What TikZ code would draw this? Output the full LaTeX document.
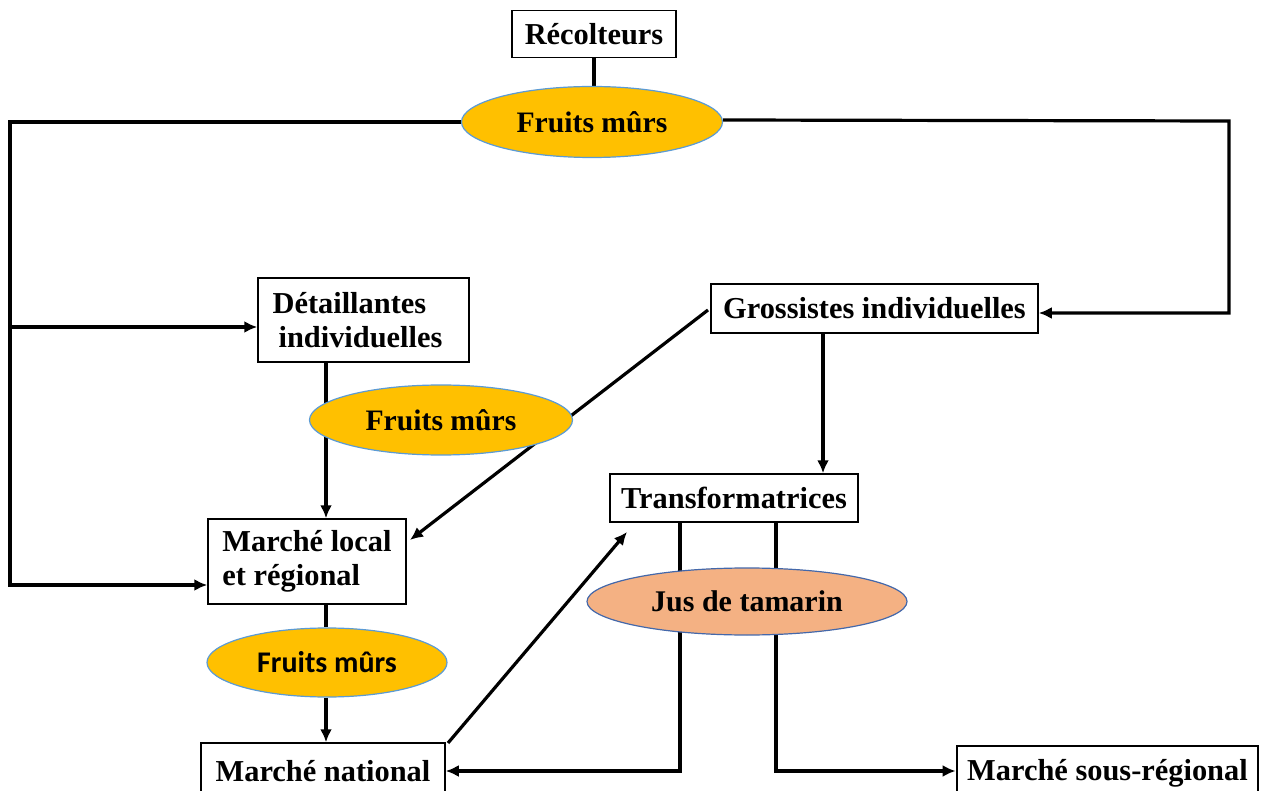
\documentclass[tikz,border=0pt]{standalone}
\usepackage{fontspec}
\setmainfont{Liberation Serif}
\newfontfamily\calibri{Carlito}
\usetikzlibrary{shapes.geometric,arrows.meta,calc}
\pgfdeclarelayer{bg}
\pgfdeclarelayer{paper}
\pgfsetlayers{paper,bg,main}
\begin{document}
\begin{tikzpicture}[x=1pt,y=-1pt,
  box/.style={draw=black,line width=1.5pt,fill=white,inner sep=0pt,font=\fontsize{30.4}{34}\selectfont\bfseries},
  fruit/.style={ellipse,draw={rgb,255:red,91;green,155;blue,213},line width=1.2pt,fill={rgb,255:red,255;green,192;blue,0},inner sep=0pt,font=\fontsize{29.7}{34}\selectfont\bfseries},
  jus/.style={ellipse,draw={rgb,255:red,68;green,104;blue,170},line width=1.2pt,fill={rgb,255:red,244;green,177;blue,131},inner sep=0pt,font=\fontsize{30}{34}\selectfont\bfseries},
  conn/.style={line width=3.2pt},
  arr/.style={line width=3.2pt,-{Latex[length=13pt,width=12pt]}}]
\useasboundingbox (0,0) rectangle (1261,791);
\clip (0,0) rectangle (1261,791);
\begin{pgfonlayer}{paper}
\fill[white] (0,0) rectangle (1261,791);
\end{pgfonlayer}
% nodes
\node[box,minimum width=164pt,minimum height=47pt] (rec) at (594,34) {Récolteurs};
\node[fruit,minimum width=261pt,minimum height=71pt] (e1) at (592,122) {Fruits mûrs};
\node[box,minimum width=211pt,minimum height=84pt,align=left] (det) at (363.5,320) {Détaillantes\\\hspace*{6pt}individuelles\hspace*{12pt}};
\node[box,minimum width=327pt,minimum height=49pt] (gro) at (874.5,308.5) {Grossistes individuelles};
\node[fruit,minimum width=263pt,minimum height=70pt] (e2) at (441,420) {Fruits mûrs};
\node[box,minimum width=248pt,minimum height=48pt] (tra) at (734,498) {Transformatrices};
\node[box,minimum width=198pt,minimum height=85pt,align=left] (ml) at (307,561.5) {Marché local\\et régional};
\node[fruit,minimum width=240pt,minimum height=69pt,font=\calibri\fontsize{30}{34}\selectfont\bfseries] (e3) at (327,662.5) {Fruits mûrs};
\node[jus,minimum width=320pt,minimum height=67pt] (e4) at (747,601.5) {Jus de tamarin};
\node[box,minimum width=244pt,minimum height=56pt] (mn) at (323,771) {Marché national};
\node[box,line width=2.8pt,minimum width=301pt,minimum height=54pt] (msr) at (1107.5,773) {Marché sous-régional};
% coordinates
\coordinate (tl) at (10,122);
\coordinate (lb) at (10,327);
\coordinate (bl) at (10,585);
\coordinate (tr) at (1229,121);
\coordinate (br) at (1229,313);
\coordinate (dx) at (326,0);
\coordinate (gx) at (823,0);
\coordinate (ta) at (680,0);
\coordinate (tb) at (776,0);
\coordinate (mnr) at (448,743);
\coordinate (trl) at (627,532);
\coordinate (mle) at (410,540);
\coordinate (grw) at (708,310);
\coordinate (bot) at (0,771);
\coordinate (rx) at (594,0);
\begin{pgfonlayer}{bg}
\draw[conn] (rec.south) -- (e1.north -| rx);
\draw[arr] (e1.west) -- (tl) -- (bl) -- (bl -| ml.west);
\draw[arr] (lb) -- (lb -| det.west);
\draw[arr] ([yshift=2pt]e1.east) -- (tr) -- (br) -- (br -| gro.east);
\draw[arr] (det.south -| dx) -- (ml.north -| dx);
\draw[arr] (grw) -- (mle);
\draw[arr] (gro.south -| gx) -- (tra.north -| gx);
\draw[conn] (ml.south -| dx) -- (e3.north -| dx);
\draw[arr] (e3.south -| dx) -- (mn.north -| dx);
\draw[arr] (mnr) -- (trl);
\draw[arr] (tra.south -| ta) -- (bot -| ta) -- (mn.east);
\draw[arr] (tra.south -| tb) -- (bot -| tb) -- (msr.west |- bot);
\end{pgfonlayer}
\end{tikzpicture}
\end{document}
